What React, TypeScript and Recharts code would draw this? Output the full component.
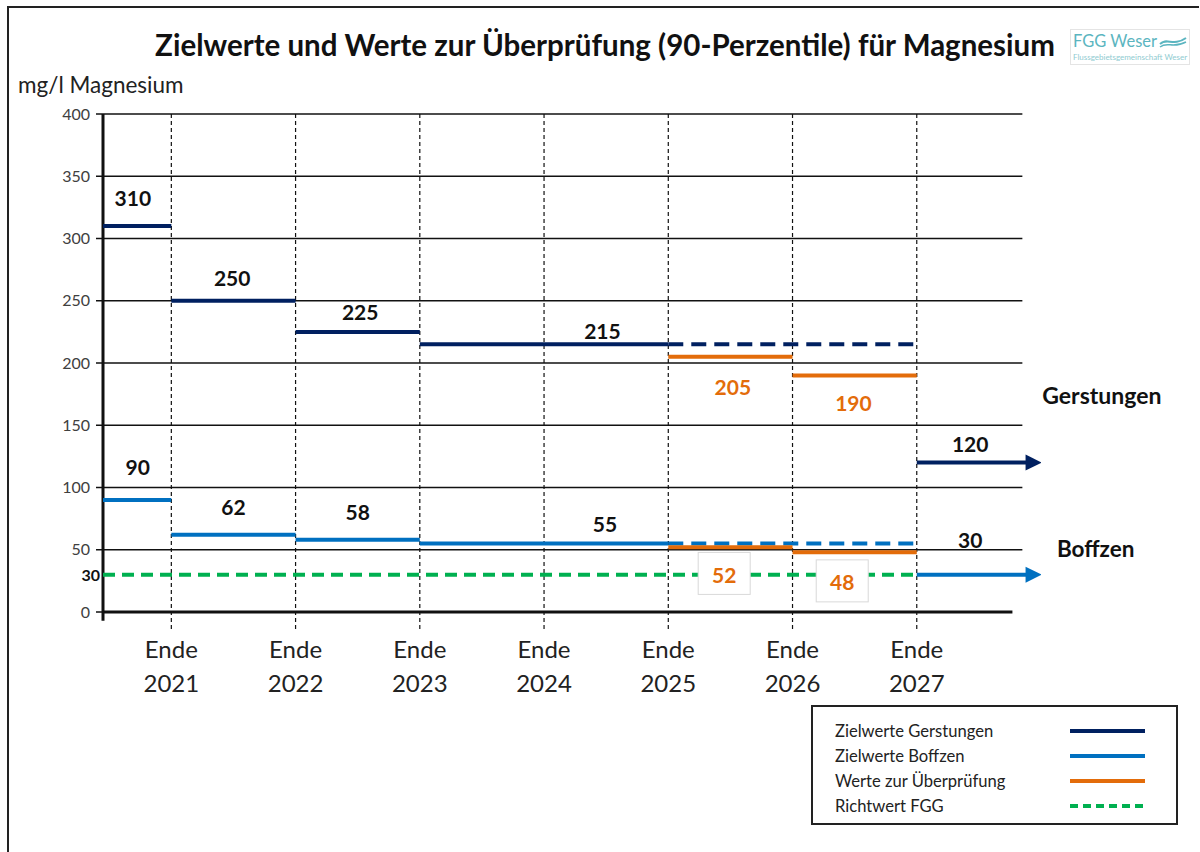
import React from 'react';
import { LineChart, Line, XAxis, YAxis, ReferenceLine, ReferenceDot } from 'recharts';

// x = Jahr ("Ende 2021" = 2021), y = mg/l Magnesium
const X_LEFT = 2020.45;
const X_RIGHT = 2028;
const GRID_END = 2027.85;

const years = [2021, 2022, 2023, 2024, 2025, 2026, 2027];
const yTicks = [0, 50, 100, 150, 200, 250, 300, 350, 400];

const segFrom = [X_LEFT, 2021, 2022, 2023, 2025, 2027];
const segTo = [2021, 2022, 2023, 2025, 2027, 2027.9];
const segDashed = [false, false, false, false, true, false];
const segArrow = [false, false, false, false, false, true];

const gerstungenValues = [310, 250, 225, 215, 215, 120];
const boffzenValues = [90, 62, 58, 55, 55, 30];

const pruefFrom = [2025, 2026];
const pruefTo = [2026, 2027];
const pruefGerstungen = [205, 190];
const pruefBoffzen = [52, 48];

const richtwertFGG = 30;

// label anchors (x, y in chart units)
const gerstungenLabelX = [2020.69, 2021.49, 2022.52, 2024.47, 2027.43];
const gerstungenLabelY = [333, 269, 241, 226, 135];
const gerstungenLabelText = ['310', '250', '225', '215', '120'];
const boffzenLabelX = [2020.73, 2021.5, 2022.5, 2024.49, 2027.43];
const boffzenLabelY = [117, 85, 81, 71, 58];
const boffzenLabelText = ['90', '62', '58', '55', '30'];
const pruefLabelX = [2025.52, 2026.49];
const pruefLabelY = [181, 168];
const pruefBoxX = [2025.45, 2026.4];
const pruefBoxY = [31, 25];

const NAVY = '#002060';
const BLUE = '#0070C0';
const ORANGE = '#E36C0A';
const GREEN = '#00B050';
const FONT = 'Lato, "Open Sans", sans-serif';

const seg = (a: number, b: number, v: number) => [
  { x: a, y: v },
  { x: b, y: v },
];

const arrowDot = (color: string) => (props: any) => {
  const { cx, cy, index } = props;
  if (index !== 1) return <g key={`n-${index}`} />;
  return (
    <polygon
      key={`a-${index}`}
      points={`${cx - 3},${cy - 8} ${cx + 13},${cy} ${cx - 3},${cy + 8}`}
      fill={color}
    />
  );
};

const textShape = (txt: string, color: string, size = 21) => (p: any) => (
  <text
    x={p.cx}
    y={p.cy}
    textAnchor="middle"
    dominantBaseline="central"
    fontFamily={FONT}
    fontWeight={700}
    fontSize={size}
    fill={color}
  >
    {txt}
  </text>
);

const boxShape = (txt: string) => (p: any) => (
  <g>
    <rect x={p.cx - 26} y={p.cy - 21} width={52} height={42} fill="#fff" stroke="#d9d9d9" />
    <text
      x={p.cx}
      y={p.cy + 1}
      textAnchor="middle"
      dominantBaseline="central"
      fontFamily={FONT}
      fontWeight={700}
      fontSize={21}
      fill={ORANGE}
    >
      {txt}
    </text>
  </g>
);

const XTick = (props: any) => {
  const { x, y, payload } = props;
  return (
    <g>
      <text x={x} y={y + 38} textAnchor="middle" fontFamily={FONT} fontSize={24} fill="#222">
        Ende
      </text>
      <text x={x} y={y + 72} textAnchor="middle" fontFamily={FONT} fontSize={24} fill="#222">
        {payload.value}
      </text>
    </g>
  );
};

const legendItems = [
  { name: 'Zielwerte Gerstungen', color: NAVY, dash: '' },
  { name: 'Zielwerte Boffzen', color: BLUE, dash: '' },
  { name: 'Werte zur Überprüfung', color: ORANGE, dash: '' },
  { name: 'Richtwert FGG', color: GREEN, dash: '8 5' },
];

export default function App() {
  return (
    <div
      style={{
        position: 'absolute',
        left: 0,
        top: 0,
        width: 1200,
        height: 852,
        background: '#fff',
        fontFamily: FONT,
      }}
    >
      {/* frame */}
      <div style={{ position: 'absolute', left: 7, top: 6, width: 1190, height: 846, borderLeft: '2px solid #222', borderTop: '2px solid #222' }} />

      <div
        style={{
          position: 'absolute',
          left: 0,
          width: 1210,
          top: 27,
          textAlign: 'center',
          fontSize: 29.5,
          fontWeight: 700,
          color: '#111',
          whiteSpace: 'nowrap',
        }}
      >
        Zielwerte und Werte zur Überprüfung (90-Perzentile) für Magnesium
      </div>

      {/* logo */}
      <div style={{ position: 'absolute', left: 1070, top: 29, width: 118, height: 34, border: '1px solid #e4e4e4' }}>
        <div style={{ position: 'absolute', left: 2, top: 1, fontSize: 16.5, color: '#5BB5C0', whiteSpace: 'nowrap' }}>
          FGG Weser
        </div>
        <svg style={{ position: 'absolute', left: 88, top: 5 }} width={28} height={14}>
          <path d="M1,9 C8,2 14,12 27,3" stroke="#5BB5C0" strokeWidth={2} fill="none" />
          <path d="M1,12 C8,6 14,14 27,7" stroke="#5BB5C0" strokeWidth={1.5} fill="none" />
        </svg>
        <div style={{ position: 'absolute', left: 2, top: 22, fontSize: 8, color: '#8fcbd1', whiteSpace: 'nowrap' }}>
          Flussgebietsgemeinschaft Weser
        </div>
      </div>

      <div style={{ position: 'absolute', left: 18, top: 71, fontSize: 22.5, color: '#222' }}>mg/l Magnesium</div>

      <div style={{ position: 'absolute', left: 0, top: 0 }}>
        <LineChart width={1200} height={852} margin={{ top: 114, right: 159, left: 3, bottom: 180 }}>
          <XAxis
            type="number"
            dataKey="x"
            domain={[X_LEFT, X_RIGHT]}
            ticks={years}
            allowDataOverflow
            axisLine={false}
            tickLine={false}
            height={60}
            tick={<XTick />}
            interval={0}
          />
          <YAxis
            type="number"
            dataKey="y"
            domain={[0, 400]}
            ticks={yTicks}
            width={100}
            axisLine={false}
            tickSize={7}
            tickMargin={6}
            tickLine={{ stroke: '#111', strokeWidth: 1.5 }}
            tick={{ fontFamily: FONT, fontSize: 16, fill: '#404040' }}
            interval={0}
          />

          {yTicks.slice(1).map((v) => (
            <ReferenceLine
              key={`g-${v}`}
              segment={[
                { x: X_LEFT, y: v },
                { x: GRID_END, y: v },
              ]}
              stroke="#111"
              strokeWidth={1.5}
              ifOverflow="visible"
            />
          ))}
          <ReferenceLine
            segment={[
              { x: X_LEFT, y: 0 },
              { x: 2027.77, y: 0 },
            ]}
            stroke="#111"
            strokeWidth={3}
            ifOverflow="visible"
          />
          {years.map((yr) => (
            <ReferenceLine
              key={`v-${yr}`}
              segment={[
                { x: yr, y: 400 },
                { x: yr, y: -16 },
              ]}
              stroke="#111"
              strokeWidth={1.2}
              strokeDasharray="4 3"
              ifOverflow="visible"
            />
          ))}
          <ReferenceLine
            segment={[
              { x: X_LEFT, y: 400 },
              { x: X_LEFT, y: -7 },
            ]}
            stroke="#111"
            strokeWidth={3}
            ifOverflow="visible"
          />

          <Line
            data={seg(X_LEFT, 2027, richtwertFGG)}
            dataKey="y"
            stroke={GREEN}
            strokeWidth={4}
            strokeDasharray="12 7"
            dot={false}
            isAnimationActive={false}
          />

          {gerstungenValues.map((v, i) => (
            <Line
              key={`ge-${i}`}
              data={seg(segFrom[i], segTo[i], v)}
              dataKey="y"
              stroke={NAVY}
              strokeWidth={4}
              strokeDasharray={segDashed[i] ? '15 8' : undefined}
              dot={segArrow[i] ? arrowDot(NAVY) : false}
              isAnimationActive={false}
            />
          ))}
          {boffzenValues.map((v, i) => (
            <Line
              key={`bo-${i}`}
              data={seg(segFrom[i], segTo[i], v)}
              dataKey="y"
              stroke={BLUE}
              strokeWidth={4}
              strokeDasharray={segDashed[i] ? '15 8' : undefined}
              dot={segArrow[i] ? arrowDot(BLUE) : false}
              isAnimationActive={false}
            />
          ))}
          {pruefGerstungen.map((v, i) => (
            <Line
              key={`pg-${i}`}
              data={seg(pruefFrom[i], pruefTo[i], v)}
              dataKey="y"
              stroke={ORANGE}
              strokeWidth={4}
              dot={false}
              isAnimationActive={false}
            />
          ))}
          {pruefBoffzen.map((v, i) => (
            <Line
              key={`pb-${i}`}
              data={seg(pruefFrom[i], pruefTo[i], v)}
              dataKey="y"
              stroke={ORANGE}
              strokeWidth={4}
              dot={false}
              isAnimationActive={false}
            />
          ))}

          {gerstungenLabelText.map((t, i) => (
            <ReferenceDot
              key={`gl-${i}`}
              x={gerstungenLabelX[i]}
              y={gerstungenLabelY[i]}
              r={1}
              ifOverflow="visible"
              shape={textShape(t, '#111')}
            />
          ))}
          {boffzenLabelText.map((t, i) => (
            <ReferenceDot
              key={`bl-${i}`}
              x={boffzenLabelX[i]}
              y={boffzenLabelY[i]}
              r={1}
              ifOverflow="visible"
              shape={textShape(t, '#111')}
            />
          ))}
          {pruefGerstungen.map((v, i) => (
            <ReferenceDot
              key={`pl-${i}`}
              x={pruefLabelX[i]}
              y={pruefLabelY[i]}
              r={1}
              ifOverflow="visible"
              shape={textShape(String(v), ORANGE)}
            />
          ))}
          {pruefBoffzen.map((v, i) => (
            <ReferenceDot
              key={`pbl-${i}`}
              x={pruefBoxX[i]}
              y={pruefBoxY[i]}
              r={1}
              ifOverflow="visible"
              shape={boxShape(String(v))}
            />
          ))}
          <ReferenceDot x={2028.49} y={174} r={1} ifOverflow="visible" shape={textShape('Gerstungen', '#111', 23)} />
          <ReferenceDot x={2028.44} y={51} r={1} ifOverflow="visible" shape={textShape('Boffzen', '#111', 22.5)} />
          <ReferenceDot
            x={X_LEFT}
            y={richtwertFGG}
            r={1}
            ifOverflow="visible"
            shape={(p: any) => (
              <text
                x={p.cx - 3}
                y={p.cy}
                textAnchor="end"
                dominantBaseline="central"
                fontFamily={FONT}
                fontWeight={700}
                fontSize={16}
                fill="#111"
              >
                {richtwertFGG}
              </text>
            )}
          />
        </LineChart>
      </div>

      {/* legend */}
      <div
        style={{
          position: 'absolute',
          left: 811,
          top: 705,
          width: 363,
          height: 116,
          border: '2px solid #222',
        }}
      >
        {legendItems.map((it, i) => (
          <div key={it.name} style={{ position: 'absolute', left: 22, top: 12 + i * 25, height: 24, width: 340 }}>
            <span style={{ fontSize: 16.6, color: '#222', lineHeight: '24px', whiteSpace: 'nowrap' }}>{it.name}</span>
            <svg style={{ position: 'absolute', left: 235, top: 8 }} width={80} height={8}>
              <line x1={0} y1={4} x2={75} y2={4} stroke={it.color} strokeWidth={4} strokeDasharray={it.dash || undefined} />
            </svg>
          </div>
        ))}
      </div>
    </div>
  );
}
